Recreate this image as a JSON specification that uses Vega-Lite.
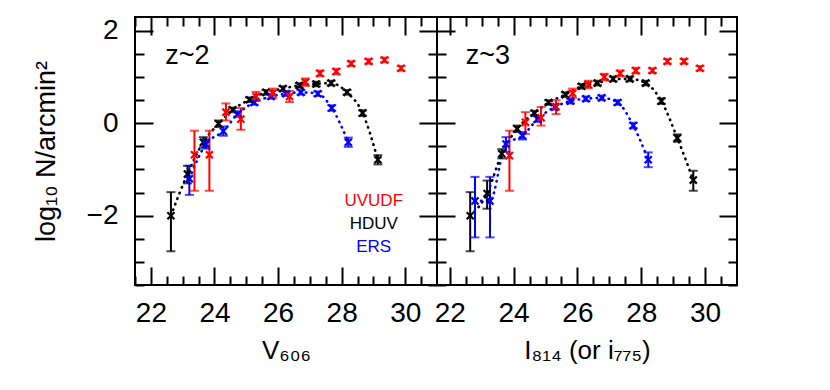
{
  "$schema": "https://vega.github.io/schema/vega-lite/v6.json",
  "padding": {"left": 31, "top": 15, "right": 5, "bottom": 5},
  "config": {
    "view": {"stroke": "black", "strokeWidth": 2},
    "font": "Liberation Sans",
    "axis": {"domain": false, "grid": false, "tickColor": "black", "tickWidth": 2, "labelFont": "Liberation Sans", "labelFontSize": 28, "labelColor": "black", "titleFont": "Liberation Sans", "titleFontSize": 26, "titleFontWeight": "normal", "titleColor": "black", "labelOverlap": false, "labelFlush": false, "labelBound": false}
  },
  "datasets": {
    "pts": [
      {"p": "z2", "s": "HDUV", "mag": 22.63, "logN": -2.0, "lo": -2.77, "hi": -1.49},
      {"p": "z2", "s": "HDUV", "mag": 23.15, "logN": -1.1, "lo": -1.3, "hi": -0.92},
      {"p": "z2", "s": "HDUV", "mag": 23.65, "logN": -0.41, "lo": -0.52, "hi": -0.3},
      {"p": "z2", "s": "HDUV", "mag": 24.13, "logN": -0.01, "lo": -0.08, "hi": 0.06},
      {"p": "z2", "s": "HDUV", "mag": 24.57, "logN": 0.29, "lo": 0.24, "hi": 0.34},
      {"p": "z2", "s": "HDUV", "mag": 25.1, "logN": 0.51, "lo": 0.46, "hi": 0.56},
      {"p": "z2", "s": "HDUV", "mag": 25.62, "logN": 0.67, "lo": 0.62, "hi": 0.72},
      {"p": "z2", "s": "HDUV", "mag": 26.15, "logN": 0.75, "lo": 0.7, "hi": 0.8},
      {"p": "z2", "s": "HDUV", "mag": 26.67, "logN": 0.82, "lo": 0.77, "hi": 0.87},
      {"p": "z2", "s": "HDUV", "mag": 27.2, "logN": 0.85, "lo": 0.8, "hi": 0.9},
      {"p": "z2", "s": "HDUV", "mag": 27.67, "logN": 0.87, "lo": 0.82, "hi": 0.92},
      {"p": "z2", "s": "HDUV", "mag": 28.17, "logN": 0.67, "lo": 0.62, "hi": 0.72},
      {"p": "z2", "s": "HDUV", "mag": 28.66, "logN": 0.22, "lo": 0.16, "hi": 0.28},
      {"p": "z2", "s": "HDUV", "mag": 29.14, "logN": -0.79, "lo": -0.89, "hi": -0.69},
      {"p": "z2", "s": "ERS", "mag": 23.21, "logN": -1.2, "lo": -1.55, "hi": -0.92},
      {"p": "z2", "s": "ERS", "mag": 23.73, "logN": -0.45, "lo": -0.55, "hi": -0.35},
      {"p": "z2", "s": "ERS", "mag": 24.28, "logN": -0.17, "lo": -0.27, "hi": -0.07},
      {"p": "z2", "s": "ERS", "mag": 24.73, "logN": 0.2, "lo": 0.14, "hi": 0.26},
      {"p": "z2", "s": "ERS", "mag": 25.25, "logN": 0.45, "lo": 0.4, "hi": 0.5},
      {"p": "z2", "s": "ERS", "mag": 25.78, "logN": 0.58, "lo": 0.53, "hi": 0.63},
      {"p": "z2", "s": "ERS", "mag": 26.25, "logN": 0.64, "lo": 0.59, "hi": 0.69},
      {"p": "z2", "s": "ERS", "mag": 26.72, "logN": 0.67, "lo": 0.62, "hi": 0.72},
      {"p": "z2", "s": "ERS", "mag": 27.25, "logN": 0.64, "lo": 0.59, "hi": 0.69},
      {"p": "z2", "s": "ERS", "mag": 27.69, "logN": 0.33, "lo": 0.27, "hi": 0.39},
      {"p": "z2", "s": "ERS", "mag": 28.21, "logN": -0.41, "lo": -0.51, "hi": -0.31},
      {"p": "z2", "s": "UVUDF", "mag": 23.37, "logN": -0.68, "lo": -1.46, "hi": -0.16},
      {"p": "z2", "s": "UVUDF", "mag": 23.84, "logN": -0.68, "lo": -1.46, "hi": -0.16},
      {"p": "z2", "s": "UVUDF", "mag": 24.36, "logN": 0.24, "lo": 0.06, "hi": 0.43},
      {"p": "z2", "s": "UVUDF", "mag": 24.83, "logN": 0.09, "lo": -0.14, "hi": 0.33},
      {"p": "z2", "s": "UVUDF", "mag": 25.31, "logN": 0.58, "lo": 0.48, "hi": 0.68},
      {"p": "z2", "s": "UVUDF", "mag": 25.83, "logN": 0.65, "lo": 0.55, "hi": 0.75},
      {"p": "z2", "s": "UVUDF", "mag": 26.36, "logN": 0.58, "lo": 0.46, "hi": 0.7},
      {"p": "z2", "s": "UVUDF", "mag": 26.86, "logN": 0.89, "lo": 0.81, "hi": 0.97},
      {"p": "z2", "s": "UVUDF", "mag": 27.32, "logN": 1.08, "lo": 1.02, "hi": 1.14},
      {"p": "z2", "s": "UVUDF", "mag": 27.83, "logN": 1.12, "lo": 1.06, "hi": 1.18},
      {"p": "z2", "s": "UVUDF", "mag": 28.3, "logN": 1.29, "lo": 1.24, "hi": 1.34},
      {"p": "z2", "s": "UVUDF", "mag": 28.85, "logN": 1.34, "lo": 1.29, "hi": 1.39},
      {"p": "z2", "s": "UVUDF", "mag": 29.35, "logN": 1.37, "lo": 1.32, "hi": 1.42},
      {"p": "z2", "s": "UVUDF", "mag": 29.87, "logN": 1.19, "lo": 1.14, "hi": 1.24},
      {"p": "z3", "s": "HDUV", "mag": 22.64, "logN": -2.0, "lo": -2.77, "hi": -1.49},
      {"p": "z3", "s": "HDUV", "mag": 23.17, "logN": -1.52, "lo": -1.85, "hi": -1.24},
      {"p": "z3", "s": "HDUV", "mag": 23.63, "logN": -0.66, "lo": -0.76, "hi": -0.56},
      {"p": "z3", "s": "HDUV", "mag": 24.11, "logN": -0.12, "lo": -0.19, "hi": -0.05},
      {"p": "z3", "s": "HDUV", "mag": 24.65, "logN": 0.22, "lo": 0.17, "hi": 0.27},
      {"p": "z3", "s": "HDUV", "mag": 25.1, "logN": 0.45, "lo": 0.4, "hi": 0.5},
      {"p": "z3", "s": "HDUV", "mag": 25.62, "logN": 0.62, "lo": 0.57, "hi": 0.67},
      {"p": "z3", "s": "HDUV", "mag": 26.13, "logN": 0.8, "lo": 0.75, "hi": 0.85},
      {"p": "z3", "s": "HDUV", "mag": 26.63, "logN": 0.87, "lo": 0.82, "hi": 0.92},
      {"p": "z3", "s": "HDUV", "mag": 27.12, "logN": 0.96, "lo": 0.91, "hi": 1.01},
      {"p": "z3", "s": "HDUV", "mag": 27.64, "logN": 0.96, "lo": 0.91, "hi": 1.01},
      {"p": "z3", "s": "HDUV", "mag": 28.14, "logN": 0.87, "lo": 0.82, "hi": 0.92},
      {"p": "z3", "s": "HDUV", "mag": 28.63, "logN": 0.48, "lo": 0.42, "hi": 0.54},
      {"p": "z3", "s": "HDUV", "mag": 29.13, "logN": -0.32, "lo": -0.4, "hi": -0.24},
      {"p": "z3", "s": "HDUV", "mag": 29.63, "logN": -1.23, "lo": -1.46, "hi": -1.03},
      {"p": "z3", "s": "ERS", "mag": 22.79, "logN": -1.68, "lo": -2.47, "hi": -1.16},
      {"p": "z3", "s": "ERS", "mag": 23.26, "logN": -1.68, "lo": -2.47, "hi": -1.16},
      {"p": "z3", "s": "ERS", "mag": 23.76, "logN": -0.45, "lo": -0.62, "hi": -0.3},
      {"p": "z3", "s": "ERS", "mag": 24.28, "logN": -0.27, "lo": -0.35, "hi": -0.19},
      {"p": "z3", "s": "ERS", "mag": 24.75, "logN": 0.09, "lo": 0.03, "hi": 0.15},
      {"p": "z3", "s": "ERS", "mag": 25.29, "logN": 0.35, "lo": 0.3, "hi": 0.4},
      {"p": "z3", "s": "ERS", "mag": 25.78, "logN": 0.48, "lo": 0.43, "hi": 0.53},
      {"p": "z3", "s": "ERS", "mag": 26.27, "logN": 0.53, "lo": 0.48, "hi": 0.58},
      {"p": "z3", "s": "ERS", "mag": 26.76, "logN": 0.55, "lo": 0.5, "hi": 0.6},
      {"p": "z3", "s": "ERS", "mag": 27.26, "logN": 0.45, "lo": 0.4, "hi": 0.5},
      {"p": "z3", "s": "ERS", "mag": 27.75, "logN": -0.05, "lo": -0.11, "hi": 0.01},
      {"p": "z3", "s": "ERS", "mag": 28.22, "logN": -0.79, "lo": -0.95, "hi": -0.63},
      {"p": "z3", "s": "UVUDF", "mag": 23.87, "logN": -0.7, "lo": -1.46, "hi": -0.16},
      {"p": "z3", "s": "UVUDF", "mag": 24.37, "logN": 0.02, "lo": -0.23, "hi": 0.24},
      {"p": "z3", "s": "UVUDF", "mag": 24.86, "logN": 0.12, "lo": -0.05, "hi": 0.35},
      {"p": "z3", "s": "UVUDF", "mag": 25.33, "logN": 0.36, "lo": 0.2, "hi": 0.5},
      {"p": "z3", "s": "UVUDF", "mag": 25.85, "logN": 0.65, "lo": 0.55, "hi": 0.75},
      {"p": "z3", "s": "UVUDF", "mag": 26.34, "logN": 0.84, "lo": 0.76, "hi": 0.92},
      {"p": "z3", "s": "UVUDF", "mag": 26.84, "logN": 1.0, "lo": 0.93, "hi": 1.07},
      {"p": "z3", "s": "UVUDF", "mag": 27.34, "logN": 1.08, "lo": 1.02, "hi": 1.14},
      {"p": "z3", "s": "UVUDF", "mag": 27.83, "logN": 1.14, "lo": 1.08, "hi": 1.2},
      {"p": "z3", "s": "UVUDF", "mag": 28.35, "logN": 1.14, "lo": 1.09, "hi": 1.19},
      {"p": "z3", "s": "UVUDF", "mag": 28.82, "logN": 1.34, "lo": 1.29, "hi": 1.39},
      {"p": "z3", "s": "UVUDF", "mag": 29.34, "logN": 1.34, "lo": 1.29, "hi": 1.39},
      {"p": "z3", "s": "UVUDF", "mag": 29.84, "logN": 1.19, "lo": 1.14, "hi": 1.24}
    ],
    "titles": [
      {"p": "z2", "label": "z~2", "x": 22.45, "y": 1.29},
      {"p": "z3", "label": "z~3", "x": 22.5, "y": 1.29}
    ],
    "legend": [
      {"label": "UVUDF", "x": 29.01, "y": -1.8},
      {"label": "HDUV", "x": 29.01, "y": -2.29},
      {"label": "ERS", "x": 29.01, "y": -2.78}
    ]
  },
  "spacing": 0,
  "bounds": "flush",
  "hconcat": [
    {
      "width": 302,
      "height": 268,
      "resolve": {"axis": {"x": "independent", "y": "independent"}},
      "layer": [
        {
          "data": {"name": "pts"},
          "transform": [{"filter": "datum.p === 'z2' && datum.s !== 'UVUDF'"}],
          "mark": {"type": "line", "strokeDash": [0.5, 5.5], "strokeCap": "round", "strokeWidth": 2.6, "interpolate": "monotone"},
          "encoding": {
            "x": {"field": "mag", "type": "quantitative", "scale": {"domain": [21.5, 31], "nice": false, "zero": false}, "axis": {"orient": "bottom", "values": [22, 24, 26, 28, 30], "tickSize": -18, "labelPadding": 32, "title": "V₆₀₆", "titlePadding": 10}},
            "y": {"field": "logN", "type": "quantitative", "scale": {"domain": [-3.5, 2.3], "nice": false, "zero": false}, "axis": {"orient": "left", "values": [-2, 0, 2], "tickSize": -18, "labelPadding": 35, "title": "log₁₀ N/arcmin²", "titleFontSize": 27, "titlePadding": 26}},
            "color": {"field": "s", "type": "nominal", "scale": {"domain": ["UVUDF", "HDUV", "ERS"], "range": ["#ff0000", "#000000", "#0000ff"]}, "legend": null}
          }
        },
        {
          "data": {"name": "pts"},
          "transform": [{"filter": "datum.p === 'z2'"}],
          "mark": {"type": "rule", "strokeWidth": 2},
          "encoding": {
            "x": {"field": "mag", "type": "quantitative", "scale": {"domain": [21.5, 31], "nice": false, "zero": false}, "axis": {"orient": "bottom", "values": [21.5, 22.5, 23, 23.5, 24.5, 25, 25.5, 26.5, 27, 27.5, 28.5, 29, 29.5, 30.5], "tickSize": -9, "labels": false, "title": null}},
            "y": {"field": "lo", "type": "quantitative", "scale": {"domain": [-3.5, 2.3], "nice": false, "zero": false}, "axis": {"orient": "left", "values": [-3.5, -3, -2.5, -1.5, -1, -0.5, 0.5, 1, 1.5], "tickSize": -9, "labels": false, "title": null}},
            "y2": {"field": "hi"},
            "color": {"field": "s", "type": "nominal", "legend": null}
          }
        },
        {
          "data": {"name": "pts"},
          "transform": [{"filter": "datum.p === 'z2'"}, {"fold": ["lo", "hi"], "as": ["end", "ev"]}],
          "mark": {"type": "tick", "orient": "horizontal", "size": 9, "thickness": 2},
          "encoding": {
            "x": {"field": "mag", "type": "quantitative", "scale": {"domain": [21.5, 31], "nice": false, "zero": false}, "axis": {"orient": "top", "values": [22, 24, 26, 28, 30], "tickSize": -18, "labels": false, "title": null}},
            "y": {"field": "ev", "type": "quantitative", "scale": {"domain": [-3.5, 2.3], "nice": false, "zero": false}, "axis": {"orient": "right", "values": [-2, 0, 2], "tickSize": -18, "labels": false, "title": null}},
            "color": {"field": "s", "type": "nominal", "legend": null}
          }
        },
        {
          "data": {"name": "pts"},
          "transform": [{"filter": "datum.p === 'z2'"}],
          "mark": {"type": "point", "shape": "M-1,-1L1,1M1,-1L-1,1", "filled": false, "strokeWidth": 2.2, "size": 50, "opacity": 1},
          "encoding": {
            "x": {"field": "mag", "type": "quantitative", "scale": {"domain": [21.5, 31], "nice": false, "zero": false}, "axis": {"orient": "top", "values": [21.5, 22.5, 23, 23.5, 24.5, 25, 25.5, 26.5, 27, 27.5, 28.5, 29, 29.5, 30.5], "tickSize": -9, "labels": false, "title": null}},
            "y": {"field": "logN", "type": "quantitative", "scale": {"domain": [-3.5, 2.3], "nice": false, "zero": false}, "axis": {"orient": "right", "values": [-3.5, -3, -2.5, -1.5, -1, -0.5, 0.5, 1, 1.5], "tickSize": -9, "labels": false, "title": null}},
            "color": {"field": "s", "type": "nominal", "legend": null}
          }
        },
        {
          "data": {"name": "titles"},
          "transform": [{"filter": "datum.p === 'z2'"}],
          "mark": {"type": "text", "align": "left", "baseline": "alphabetic", "fontSize": 27, "color": "black"},
          "encoding": {
            "x": {"field": "x", "type": "quantitative", "scale": {"domain": [21.5, 31], "nice": false, "zero": false}, "axis": null},
            "y": {"field": "y", "type": "quantitative", "scale": {"domain": [-3.5, 2.3], "nice": false, "zero": false}, "axis": null},
            "text": {"field": "label"}
          }
        },
        {
          "data": {"name": "legend"},
          "mark": {"type": "text", "align": "center", "baseline": "alphabetic", "fontSize": 17},
          "encoding": {
            "x": {"field": "x", "type": "quantitative", "scale": {"domain": [21.5, 31], "nice": false, "zero": false}, "axis": null},
            "y": {"field": "y", "type": "quantitative", "scale": {"domain": [-3.5, 2.3], "nice": false, "zero": false}, "axis": null},
            "text": {"field": "label"},
            "color": {"field": "label", "type": "nominal", "legend": null}
          }
        }
      ]
    },
    {
      "width": 300,
      "height": 268,
      "resolve": {"axis": {"x": "independent", "y": "independent"}},
      "layer": [
        {
          "data": {"name": "pts"},
          "transform": [{"filter": "datum.p === 'z3' && datum.s !== 'UVUDF'"}],
          "mark": {"type": "line", "strokeDash": [0.5, 5.5], "strokeCap": "round", "strokeWidth": 2.6, "interpolate": "monotone"},
          "encoding": {
            "x": {"field": "mag", "type": "quantitative", "scale": {"domain": [21.6, 31], "nice": false, "zero": false}, "axis": {"orient": "bottom", "values": [22, 24, 26, 28, 30], "tickSize": -18, "labelPadding": 32, "title": "I₈₁₄ (or i₇₇₅)", "titlePadding": 10}},
            "y": {"field": "logN", "type": "quantitative", "scale": {"domain": [-3.5, 2.3], "nice": false, "zero": false}, "axis": {"orient": "left", "values": [-2, 0, 2], "tickSize": -18, "labels": false, "title": null}},
            "color": {"field": "s", "type": "nominal", "scale": {"domain": ["UVUDF", "HDUV", "ERS"], "range": ["#ff0000", "#000000", "#0000ff"]}, "legend": null}
          }
        },
        {
          "data": {"name": "pts"},
          "transform": [{"filter": "datum.p === 'z3'"}],
          "mark": {"type": "rule", "strokeWidth": 2},
          "encoding": {
            "x": {"field": "mag", "type": "quantitative", "scale": {"domain": [21.6, 31], "nice": false, "zero": false}, "axis": {"orient": "bottom", "values": [22.5, 23, 23.5, 24.5, 25, 25.5, 26.5, 27, 27.5, 28.5, 29, 29.5, 30.5], "tickSize": -9, "labels": false, "title": null}},
            "y": {"field": "lo", "type": "quantitative", "scale": {"domain": [-3.5, 2.3], "nice": false, "zero": false}, "axis": {"orient": "left", "values": [-3.5, -3, -2.5, -1.5, -1, -0.5, 0.5, 1, 1.5], "tickSize": -9, "labels": false, "title": null}},
            "y2": {"field": "hi"},
            "color": {"field": "s", "type": "nominal", "legend": null}
          }
        },
        {
          "data": {"name": "pts"},
          "transform": [{"filter": "datum.p === 'z3'"}, {"fold": ["lo", "hi"], "as": ["end", "ev"]}],
          "mark": {"type": "tick", "orient": "horizontal", "size": 9, "thickness": 2},
          "encoding": {
            "x": {"field": "mag", "type": "quantitative", "scale": {"domain": [21.6, 31], "nice": false, "zero": false}, "axis": {"orient": "top", "values": [22, 24, 26, 28, 30], "tickSize": -18, "labels": false, "title": null}},
            "y": {"field": "ev", "type": "quantitative", "scale": {"domain": [-3.5, 2.3], "nice": false, "zero": false}, "axis": {"orient": "right", "values": [-2, 0, 2], "tickSize": -18, "labels": false, "title": null}},
            "color": {"field": "s", "type": "nominal", "legend": null}
          }
        },
        {
          "data": {"name": "pts"},
          "transform": [{"filter": "datum.p === 'z3'"}],
          "mark": {"type": "point", "shape": "M-1,-1L1,1M1,-1L-1,1", "filled": false, "strokeWidth": 2.2, "size": 50, "opacity": 1},
          "encoding": {
            "x": {"field": "mag", "type": "quantitative", "scale": {"domain": [21.6, 31], "nice": false, "zero": false}, "axis": {"orient": "top", "values": [22.5, 23, 23.5, 24.5, 25, 25.5, 26.5, 27, 27.5, 28.5, 29, 29.5, 30.5], "tickSize": -9, "labels": false, "title": null}},
            "y": {"field": "logN", "type": "quantitative", "scale": {"domain": [-3.5, 2.3], "nice": false, "zero": false}, "axis": {"orient": "right", "values": [-3.5, -3, -2.5, -1.5, -1, -0.5, 0.5, 1, 1.5], "tickSize": -9, "labels": false, "title": null}},
            "color": {"field": "s", "type": "nominal", "legend": null}
          }
        },
        {
          "data": {"name": "titles"},
          "transform": [{"filter": "datum.p === 'z3'"}],
          "mark": {"type": "text", "align": "left", "baseline": "alphabetic", "fontSize": 27, "color": "black"},
          "encoding": {
            "x": {"field": "x", "type": "quantitative", "scale": {"domain": [21.6, 31], "nice": false, "zero": false}, "axis": null},
            "y": {"field": "y", "type": "quantitative", "scale": {"domain": [-3.5, 2.3], "nice": false, "zero": false}, "axis": null},
            "text": {"field": "label"}
          }
        }
      ]
    }
  ]
}
